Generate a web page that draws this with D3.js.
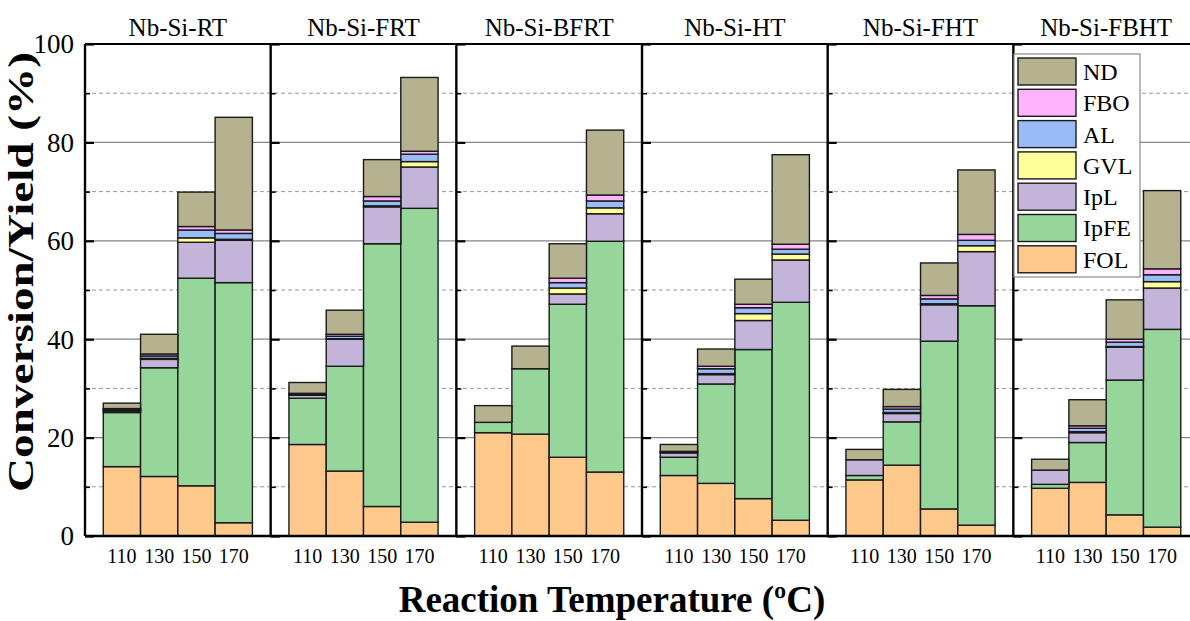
<!DOCTYPE html>
<html><head><meta charset="utf-8">
<script src="https://cdn.jsdelivr.net/npm/d3@7"></script>
<style>
html,body{margin:0;padding:0;background:#fff;}
svg{display:block;font-family:"Liberation Serif","Times New Roman",serif;}
</style></head>
<body><svg id="c" width="1190" height="621"></svg>
<script>
const panels = ["Nb-Si-RT","Nb-Si-FRT","Nb-Si-BFRT","Nb-Si-HT","Nb-Si-FHT","Nb-Si-FBHT"];
const temps = ["110","130","150","170"];
const seriesNames = ["FOL","IpFE","IpL","GVL","AL","FBO","ND"];
const yTicks = [0,20,40,60,80,100];
const yMinor = [10,30,50,70,90];
const FOL  = [[14.1,12.1,10.2,2.7],[18.6,13.2,6.0,2.8],[21.0,20.7,16.0,13.0],[12.3,10.7,7.6,3.2],[11.4,14.4,5.5,2.2],[9.7,10.9,4.3,1.8]];
const IpFE = [[11.0,22.1,42.2,48.8],[9.4,21.3,53.4,63.8],[2.1,13.3,31.1,46.9],[3.7,20.2,30.3,44.3],[0.9,8.8,34.1,44.6],[0.8,8.1,27.4,40.2]];
const IpL  = [[0.3,1.7,7.3,8.6],[0.6,5.5,7.5,8.4],[0,0,2.1,5.6],[0.9,1.9,5.9,8.6],[3.2,1.7,7.4,11.0],[2.9,2.0,6.7,8.4]];
const GVL  = [[0.2,0.2,0.9,0.2],[0.1,0.1,0.2,1.1],[0,0,1.2,1.2],[0.1,0.2,1.4,1.2],[0,0.2,0.2,1.2],[0,0.2,0.1,1.3]];
const AL   = [[0.2,0.5,1.6,1.2],[0.2,0.5,1.0,1.5],[0,0,1.1,1.4],[0.1,1.0,1.2,1.0],[0,0.7,1.0,1.1],[0,0.7,0.9,1.4]];
const FBO  = [[0.1,0.4,0.7,0.7],[0.1,0.4,0.9,0.6],[0,0,0.9,1.2],[0.1,0.5,0.7,1.0],[0,0.5,0.7,1.2],[0,0.5,0.6,1.2]];
const ND   = [[1.1,4.0,7.0,22.9],[2.2,4.9,7.5,15.0],[3.4,4.6,7.0,13.2],[1.4,3.5,5.1,18.2],[2.1,3.5,6.6,13.1],[2.2,5.3,8.0,15.9]];
const colors = {FOL:"#ffc98c",IpFE:"#97d69a",IpL:"#c3b4d9",GVL:"#ffff99",AL:"#99bcf7",FBO:"#ffb3ff",ND:"#b5b28f"};
const seriesData = {FOL,IpFE,IpL,GVL,AL,FBO,ND};

(function(){
const svg = d3.select("#c");
const pL = 85, panelW = 185.67, pT = 44, pB = 536;
const xP = d3.scaleBand().domain(panels).range([pL, pL + panelW*panels.length]);
const xT = d3.scaleBand().domain(temps).range([0, xP.bandwidth()]).paddingInner(0).paddingOuter(0.49);
const y = d3.scaleLinear().domain([0,100]).range([pB, pT]);
const pR = xP.range()[1];

const rows = [];
panels.forEach((p,pi)=>temps.forEach((t,ti)=>{
  const r = {panel:p, temp:t};
  seriesNames.forEach(s=> r[s] = seriesData[s][pi][ti]);
  rows.push(r);
}));
const stack = d3.stack().keys(seriesNames)(rows);

const grid = svg.append("g");
grid.append("g").selectAll("line").data(yTicks.filter(v=>v>0&&v<100)).join("line")
  .attr("x1",pL).attr("x2",pR).attr("y1",d=>y(d)).attr("y2",d=>y(d))
  .attr("stroke","#868686").attr("stroke-width",1.3);
grid.append("g").selectAll("line").data(yMinor).join("line")
  .attr("x1",pL).attr("x2",pR).attr("y1",d=>y(d)).attr("y2",d=>y(d))
  .attr("stroke","#999").attr("stroke-width",1).attr("stroke-dasharray","4,3");

const bars = svg.append("g");
stack.forEach(layer=>{
  bars.append("g").selectAll("rect").data(layer).join("rect")
    .attr("x",d=>xP(d.data.panel)+xT(d.data.temp))
    .attr("width",xT.bandwidth())
    .attr("y",d=>y(d[1]))
    .attr("height",d=>Math.max(0,y(d[0])-y(d[1])))
    .attr("fill",colors[layer.key])
    .attr("stroke","#1a1a1a").attr("stroke-width",1.4);
});

svg.append("line").attr("x1",pL).attr("x2",pR).attr("y1",pT).attr("y2",pT).attr("stroke","#000").attr("stroke-width",2.2);
svg.append("line").attr("x1",pL).attr("x2",pR).attr("y1",pB).attr("y2",pB).attr("stroke","#000").attr("stroke-width",2.4);

panels.forEach(p=>{
  const gx = xP(p);
  const ax = svg.append("g").attr("transform",`translate(${gx},0)`);
  ax.call(d3.axisRight(y).tickValues(yTicks).tickSize(9).tickFormat(""))
    .call(g=>g.select(".domain").remove())
    .call(g=>g.selectAll("line").attr("stroke","#000").attr("stroke-width",2.2));
  ax.append("g").call(d3.axisRight(y).tickValues(yMinor).tickSize(5).tickFormat(""))
    .call(h=>h.select(".domain").remove())
    .call(h=>h.selectAll("line").attr("stroke","#000").attr("stroke-width",1.6));
  svg.append("line").attr("x1",gx).attr("x2",gx).attr("y1",pT).attr("y2",pB)
    .attr("stroke","#000").attr("stroke-width",2.4);
  svg.append("text").attr("x",gx+xP.bandwidth()/2).attr("y",36).attr("text-anchor","middle")
    .attr("font-size",25).attr("fill","#000").text(p);
  svg.append("g").selectAll("text").data(temps).join("text")
    .attr("x",d=>gx+xT(d)+xT.bandwidth()/2).attr("y",563).attr("text-anchor","middle")
    .attr("font-size",20).attr("fill","#000").text(d=>d);
});

svg.append("g").selectAll("text").data(yTicks).join("text")
  .attr("x",74).attr("y",d=>y(d)).attr("dy","0.35em").attr("text-anchor","end")
  .attr("font-size",27).attr("fill","#000").text(d=>d);

svg.append("text").attr("transform","translate(33,272) rotate(-90)").attr("text-anchor","middle")
  .attr("font-size",35).attr("font-weight","bold").attr("fill","#000")
  .attr("textLength",440).attr("lengthAdjust","spacingAndGlyphs").text("Conversion/Yield (%)");
svg.append("text").attr("x",612).attr("y",612).attr("text-anchor","middle")
  .attr("font-size",37).attr("font-weight","bold").attr("fill","#000").text("Reaction Temperature (ºC)");

const legNames = seriesNames.slice().reverse();
const lg = svg.append("g");
lg.append("rect").attr("x",1014).attr("y",54).attr("width",126).attr("height",223)
  .attr("fill","#fff").attr("stroke","#8a8a8a").attr("stroke-width",1.2);
const ly = d3.scalePoint().domain(legNames).range([58, 58+6*31.3]);
lg.append("g").selectAll("rect").data(legNames).join("rect")
  .attr("x",1018).attr("y",d=>ly(d)).attr("width",58).attr("height",27)
  .attr("fill",d=>colors[d]).attr("stroke","#1a1a1a").attr("stroke-width",1.4);
lg.append("g").selectAll("text").data(legNames).join("text")
  .attr("x",1083).attr("y",d=>ly(d)+13.5).attr("dy","0.35em")
  .attr("font-size",24).attr("fill","#000").text(d=>d);
})();
</script></body></html>
